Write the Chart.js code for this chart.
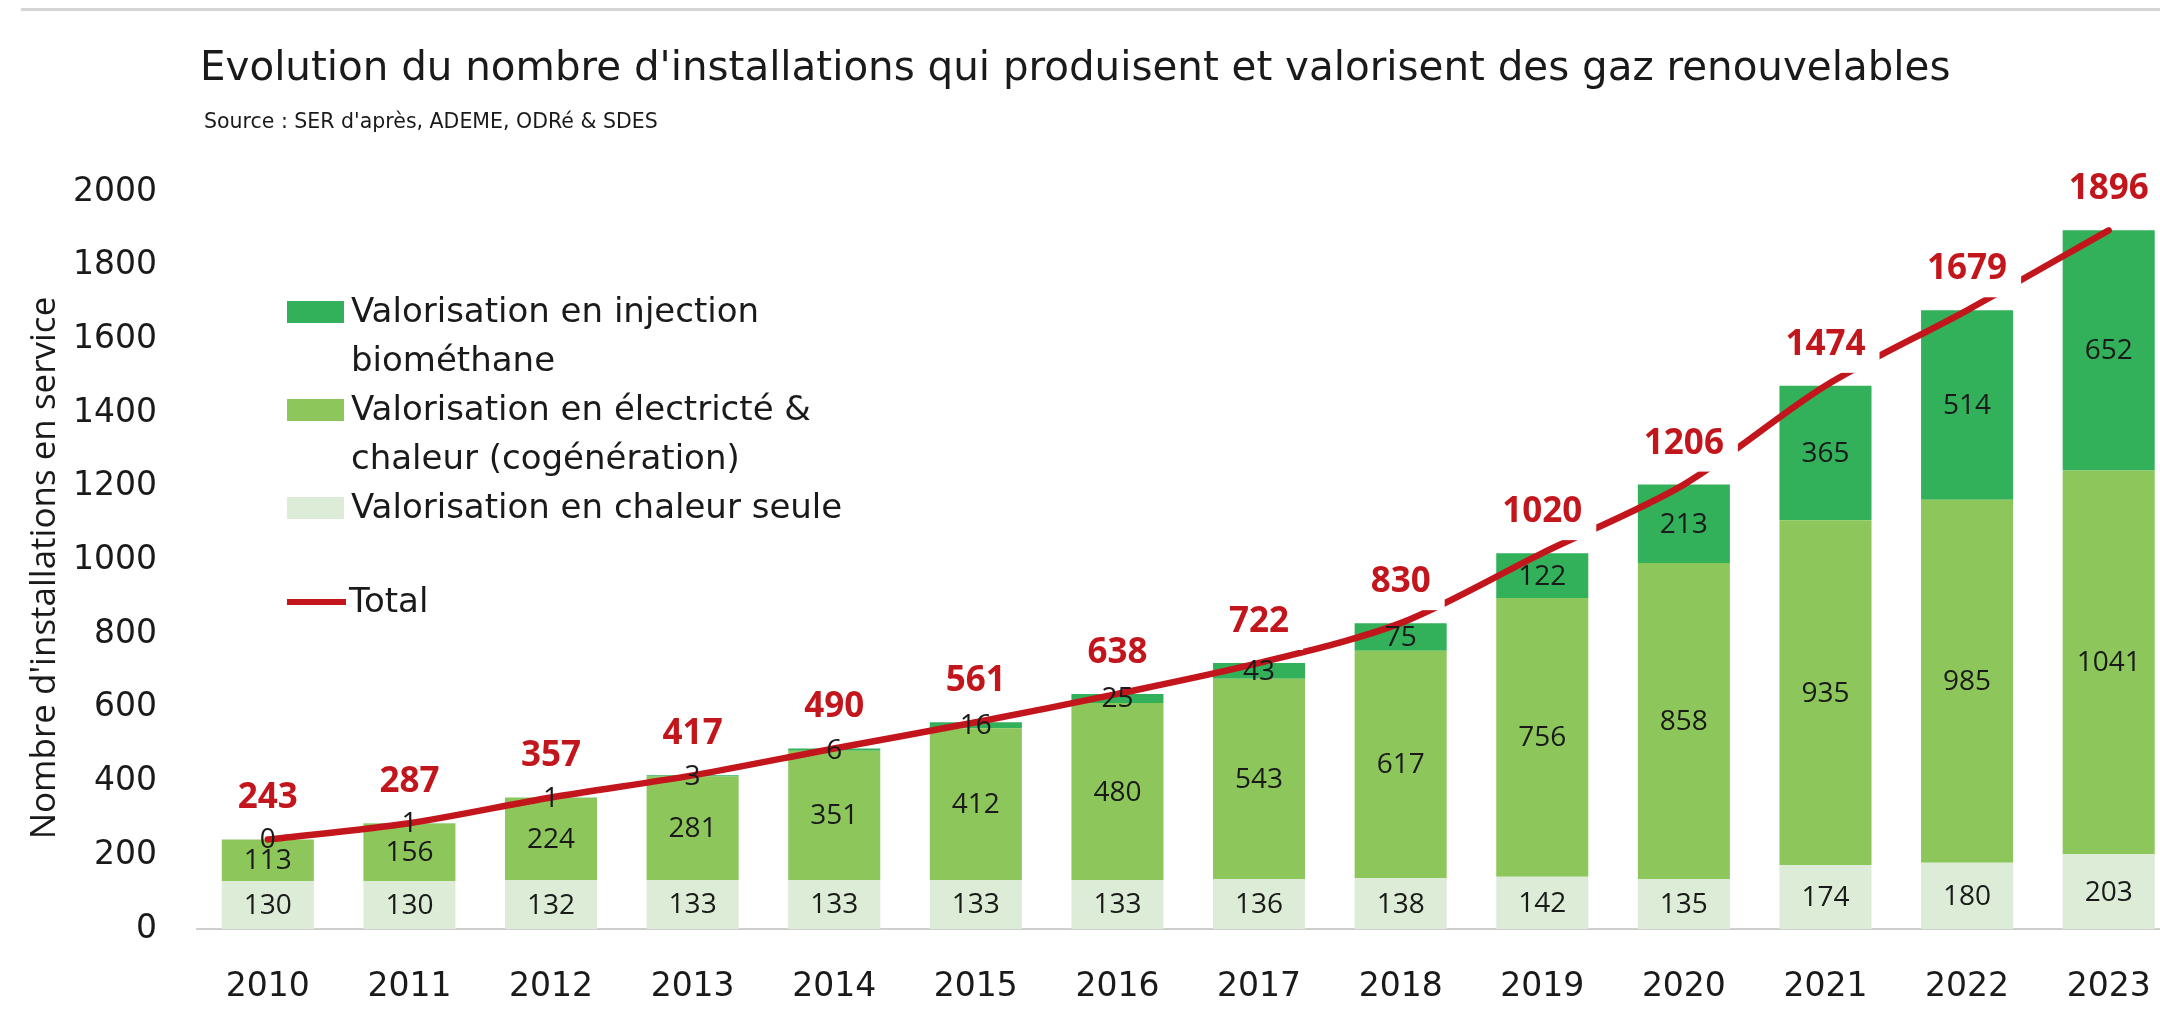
<!DOCTYPE html>
<html>
<head>
<meta charset="utf-8">
<script src="https://cdn.jsdelivr.net/npm/chart.js@4.4.0/dist/chart.umd.min.js"></script>
<style>
  html, body { margin:0; padding:0; background:#ffffff; overflow:hidden; width:2160px; height:1009px; }
  #wrap { position:absolute; left:0; top:0; width:2190px; height:1009px; }
  #topline { position:absolute; left:21px; width:2139px; top:8px; height:3px; background:#d5d5d5; }
  #title { position:absolute; left:200px; top:43px; font-family:"DejaVu Sans"; font-size:40.4px; line-height:46px; color:#1a1a1a; white-space:nowrap; }
  #subtitle { position:absolute; left:204px; top:109px; font-family:"DejaVu Sans"; font-size:20.5px; line-height:24px; color:#1a1a1a; white-space:nowrap; }
  canvas { position:absolute; left:0; top:0; }
</style>
</head>
<body>
<div id="wrap">
  <canvas id="c" width="2190" height="1009"></canvas>
</div>
<div id="topline"></div>
<div id="title"></div>
<div id="subtitle"></div>
<script>
// ---- data ----
const titleText = "Evolution du nombre d'installations qui produisent et valorisent des gaz renouvelables";
const subtitleText = "Source : SER d'après, ADEME, ODRé & SDES";
const yAxisTitle = "Nombre d'installations en service";
const years = ['2010','2011','2012','2013','2014','2015','2016','2017','2018','2019','2020','2021','2022','2023'];
const chaleurSeule = [130,130,132,133,133,133,133,136,138,142,135,174,180,203];
const cogeneration = [113,156,224,281,351,412,480,543,617,756,858,935,985,1041];
const injection   = [0,1,1,3,6,16,25,43,75,122,213,365,514,652];
const total       = [243,287,357,417,490,561,638,722,830,1020,1206,1474,1679,1896];
const labelChaleur = ['Valorisation en chaleur seule'];
const labelCogen   = ['Valorisation en électricté &', 'chaleur (cogénération)'];
const labelInject  = ['Valorisation en injection', 'biométhane'];
const labelTotal   = ['Total'];
const yTicks = [0,200,400,600,800,1000,1200,1400,1600,1800,2000];

document.getElementById('title').textContent = titleText;
document.getElementById('subtitle').textContent = subtitleText;

const C_INJ = '#32b05a', C_COG = '#8dc65a', C_HEAT = '#dcecd6', C_RED = '#c3161c', C_TXT = '#1a1a1a';

const valueLabels = {
  id: 'valueLabels',
  afterDatasetsDraw(chart) {
    const ctx = chart.ctx;
    ctx.save();
    ctx.font = '28px "Open Sans"';
    ctx.fillStyle = C_TXT;
    ctx.textAlign = 'center';
    ctx.textBaseline = 'middle';
    [0,1,2].forEach(di => {
      const meta = chart.getDatasetMeta(di);
      const ds = chart.data.datasets[di];
      meta.data.forEach((el, j) => {
        const p = el.getProps(['x','y','base'], true);
        ctx.fillText(String(ds.data[j]), p.x, (p.y + p.base) / 2 + 1);
      });
    });
    const lm = chart.getDatasetMeta(3);
    ctx.font = 'bold 35px "Open Sans"';
    lm.data.forEach((pt, j) => {
      const t = String(chart.data.datasets[3].data[j]);
      const w = ctx.measureText(t).width;
      const cy = pt.y - 42;
      ctx.fillStyle = '#ffffff';
      ctx.fillRect(pt.x - w/2 - 14, cy - 29, w + 28, 58);
      ctx.fillStyle = C_RED;
      ctx.fillText(t, pt.x, cy + 1);
    });
    ctx.restore();
  }
};

const sideLegend = {
  id: 'sideLegend',
  afterDraw(chart) {
    const ctx = chart.ctx;
    ctx.save();
    ctx.translate(45, 568);
    ctx.rotate(-Math.PI / 2);
    ctx.font = '35px "Open Sans"';
    ctx.fillStyle = C_TXT;
    ctx.textAlign = 'center';
    ctx.textBaseline = 'middle';
    ctx.fillText(yAxisTitle, 0, 0);
    ctx.restore();

    ctx.save();
    ctx.font = '34px "DejaVu Sans"';
    ctx.textBaseline = 'middle';
    ctx.textAlign = 'left';
    const items = [
      {ds: 2, lines: labelInject},
      {ds: 1, lines: labelCogen},
      {ds: 0, lines: labelChaleur}
    ];
    let y = 312;
    const gap = 49;
    items.forEach(it => {
      ctx.fillStyle = chart.data.datasets[it.ds].backgroundColor;
      ctx.fillRect(287, y - 11, 57, 22);
      ctx.fillStyle = C_TXT;
      it.lines.forEach((ln, k) => ctx.fillText(ln, 351, y + k * gap + 1));
      y += it.lines.length * gap;
    });
    ctx.strokeStyle = C_RED;
    ctx.lineWidth = 6;
    ctx.beginPath();
    ctx.moveTo(287, 602); ctx.lineTo(346, 602);
    ctx.stroke();
    ctx.fillStyle = C_TXT;
    ctx.fillText(labelTotal[0], 349, 603);
    ctx.restore();
  }
};

new Chart(document.getElementById('c'), {
  data: {
    labels: years,
    datasets: [
      { type:'bar', label: labelChaleur.join(' '), data: chaleurSeule, backgroundColor: C_HEAT, stack:'s', order: 2 },
      { type:'bar', label: labelCogen.join(' '), data: cogeneration, backgroundColor: C_COG, stack:'s', order: 2 },
      { type:'bar', label: labelInject.join(' '), data: injection, backgroundColor: C_INJ, stack:'s', order: 2 },
      { type:'line', label: labelTotal[0], data: total, borderColor: C_RED, backgroundColor: C_RED, borderWidth: 6.5,
        pointRadius: 0, tension: 0.3, stack:'t', order: 1, borderCapStyle:'round', borderJoinStyle:'round', clip: false }
    ]
  },
  options: {
    responsive: false,
    devicePixelRatio: 1,
    animation: false,
    layout: { padding: { top: 192, left: 0, right: 9, bottom: 0 } },
    datasets: { bar: { barPercentage: 0.65, categoryPercentage: 1.0 } },
    plugins: { legend: { display:false }, tooltip: { enabled:false }, title: { display:false } },
    scales: {
      x: {
        stacked: true,
        grid: { display:false, drawTicks:false },
        border: { display:true, color:'#cfcfcf', width:2 },
        ticks: { padding: 39, color: C_TXT, font: { family:'DejaVu Sans', size:33 } },
        afterFit(s) { s.height = 80; }
      },
      y: {
        stacked: true,
        min: 0, max: 2000,
        afterBuildTicks(s) { s.ticks = yTicks.map(v => ({ value: v })); },
        grid: { display:false, drawTicks:false },
        border: { display:false },
        ticks: { padding: 40, color: C_TXT, font: { family:'DejaVu Sans', size:33 }, callback: (v) => String(v) },
        afterFit(s) { s.width = 197; }
      }
    }
  },
  plugins: [valueLabels, sideLegend]
});
</script>
</body>
</html>
